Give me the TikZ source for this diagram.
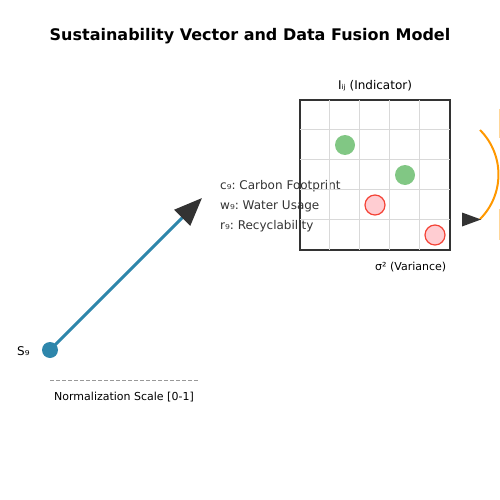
\documentclass[tikz,border=0pt]{standalone}
\usepackage{fontspec}
\setmainfont{DejaVu Sans}
\usetikzlibrary{arrows.meta,calc}
\definecolor{C1}{HTML}{2E86AB}
\definecolor{C2}{HTML}{FF9800}
\definecolor{C3}{HTML}{81C784}
\definecolor{C4}{HTML}{F44336}
\definecolor{C5}{HTML}{FFCDD2}
\definecolor{ink}{HTML}{333333}
\frenchspacing

\begin{document}
\begin{tikzpicture}[x=1pt,y=-1pt]
\tikzstyle{t} = [inner sep=0pt,font=\fontsize{12}{14}\selectfont]
\tikzstyle{ts} = [inner sep=0pt,font=\fontsize{11}{13}\selectfont]
\tikzstyle{g} = [circle,inner sep=0pt,minimum size=20pt,fill=C3]
\tikzstyle{r} = [circle,inner sep=0pt,minimum size=20pt,fill=C5,draw=C4,line width=1.2pt]
\tikzstyle{v} = [line width=3pt,C1,-{Triangle[length=28pt,width=22pt,color=ink]}]
\def\cell{30}
\useasboundingbox (0,0) rectangle (500,500);
\node[inner sep=0pt,anchor=base,font=\fontsize{16}{19}\selectfont\bfseries] (title) at (250,40.7) {Sustainability Vector and Data Fusion Model};
% vector
\node[circle,fill=C1,inner sep=0pt,minimum size=16pt] (s) at (50,350) {};
\node[t,anchor=base west] (sl) at (17,355) {S₉};
\coordinate (tip) at (202,198);
\draw[v] (s.center) -- (tip);
\node[t,anchor=base west,text=ink] (c) at (220,189.5) {c₉: Carbon Footprint};
\node[t,anchor=base west,text=ink] (w) at (220,209.5) {w₉: Water Usage};
\node[t,anchor=base west,text=ink] (rr) at (220,229.5) {r₉: Recyclability};
\coordinate (n0) at (50,380);
\coordinate (n1) at (198,380);
\draw[gray!80,line width=1pt,dash pattern=on 4pt off 2pt] (n0) -- (n1);
\node[ts,anchor=base west] (nl) at (54,400) {Normalization Scale [0-1]};
% indicator grid
\node[draw=ink,line width=1.5pt,minimum size=150pt,inner sep=0pt] (grid) at (375,175) {};
\foreach \i in {1,...,4} {
  \draw[black!15,line width=1.2pt] ($(grid.north west)+(\i*\cell,0.75)$) -- ($(grid.south west)+(\i*\cell,-0.75)$);
  \draw[black!15,line width=1.2pt] ($(grid.north west)+(0.75,\i*\cell)$) -- ($(grid.north east)+(-0.75,\i*\cell)$);
}
\node[t,anchor=base] (il) at (375,90) {Iᵢⱼ (Indicator)};
\node[ts,anchor=base west] (vl) at (375,270) {σ² (Variance)};
\node[g] (g1) at (345,145) {};
\node[g] (g2) at (405,175) {};
\node[r] (r1) at (375,205) {};
\node[r] (r2) at (435,235) {};
% fusion
\coordinate (a0) at (480,130);
\coordinate (a1) at (481,219.5);
\draw[C2,line width=2pt] (a0) arc[start angle=-45,end angle=45,radius=63];
\fill[ink] (a1) -- ++(-19,-7) -- ++(0,14) -- cycle;
\draw[C2,opacity=.4,line width=1pt] (499.5,109) -- (499.5,138) (499.5,209) -- (499.5,240);
\end{tikzpicture}
\end{document}
